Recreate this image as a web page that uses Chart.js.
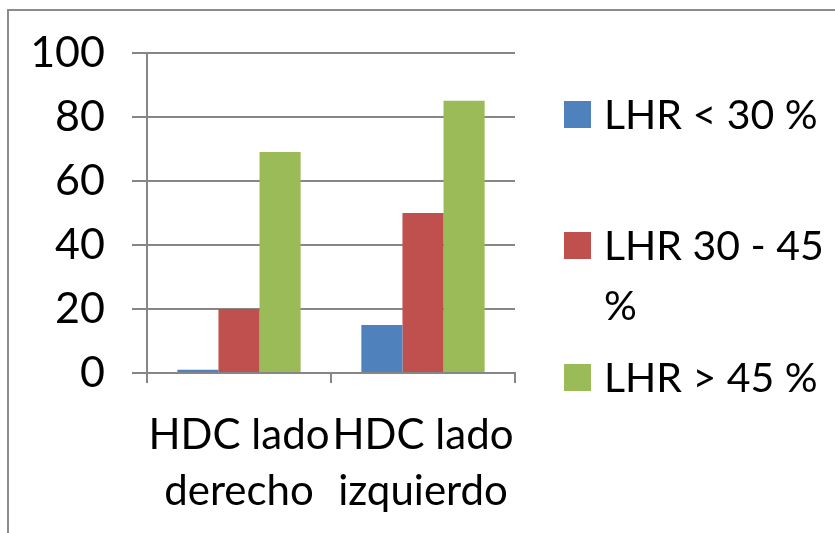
<!DOCTYPE html>
<html>
<head>
<meta charset="utf-8">
<script src="https://cdn.jsdelivr.net/npm/chart.js@4/dist/chart.umd.min.js"></script>
<style>
  html, body { margin: 0; padding: 0; background: #fff; }
  body { width: 835px; height: 533px; position: relative; overflow: hidden; font-family: Lato, "Open Sans", sans-serif; }
  #frame { position: absolute; left: 7px; top: 9px; width: 900px; height: 600px; border-left: 2px solid #8c8c8c; border-top: 2px solid #8c8c8c; box-sizing: border-box; }
  #c { position: absolute; left: 0; top: 0; }
  .sw { position: absolute; left: 564px; width: 27px; height: 27px; }
  .lt { position: absolute; left: 604px; font-size: 41px; line-height: 60px; color: #000; white-space: nowrap; }
</style>
</head>
<body>
<div id="frame"></div>
<canvas id="c" width="835" height="533"></canvas>
<div id="legend"></div>
<script>
const categories = [["HDC lado", "derecho"], ["HDC lado", "izquierdo"]];
const seriesNames = ["LHR < 30 %", "LHR 30 - 45 %", "LHR > 45 %"];
const legendLines = [["LHR < 30 %"], ["LHR 30 - 45", "%"], ["LHR > 45 %"]];
const lhrBelow30 = [1, 15];
const lhr30to45 = [20, 50];
const lhrAbove45 = [69, 85];
const yTicks = [0, 20, 40, 60, 80, 100];
const colors = ["#4F81BD", "#C0504D", "#9BBB59"];

const seriesValues = [lhrBelow30, lhr30to45, lhrAbove45];

const chart = new Chart(document.getElementById('c'), {
  type: 'bar',
  data: {
    labels: categories,
    datasets: seriesNames.map((n, i) => ({
      label: n,
      data: seriesValues[i],
      backgroundColor: colors[i],
      borderWidth: 0,
      categoryPercentage: 0.67,
      barPercentage: 1.0
    }))
  },
  options: {
    responsive: false,
    animation: false,
    devicePixelRatio: 1,
    layout: { padding: { left: 0, right: 320, top: 52, bottom: 0 } },
    plugins: { legend: { display: false }, tooltip: { enabled: false } },
    scales: {
      x: {
        grid: { display: true, drawOnChartArea: false, drawTicks: true, tickLength: 10, color: '#868686', lineWidth: 2 },
        border: { display: true, color: '#868686', width: 2 },
        ticks: { color: '#000', font: { family: 'Lato', size: 42, lineHeight: 1.33 }, padding: 25, maxRotation: 0, autoSkip: false },
        afterFit: s => { s.height = 160; }
      },
      y: {
        min: 0, max: 100,
        afterBuildTicks: s => { s.ticks = yTicks.map(v => ({ value: v })); },
        grid: { color: '#868686', lineWidth: 2, tickLength: 15 },
        border: { display: true, color: '#868686', width: 2 },
        ticks: { color: '#000', font: { family: 'Lato', size: 43 }, padding: 27 },
        afterFit: s => { s.width = 147; }
      }
    }
  }
});

const legend = document.getElementById('legend');
const rowCenters = [114, 245, 377];
legendLines.forEach((lines, i) => {
  const sw = document.createElement('div');
  sw.className = 'sw';
  sw.style.background = colors[i];
  sw.style.top = (rowCenters[i] - 13) + 'px';
  legend.appendChild(sw);
  const t = document.createElement('div');
  t.className = 'lt';
  t.style.top = (rowCenters[i] - 30) + 'px';
  t.innerHTML = lines.join('<br>');
  legend.appendChild(t);
});
</script>
</body>
</html>
